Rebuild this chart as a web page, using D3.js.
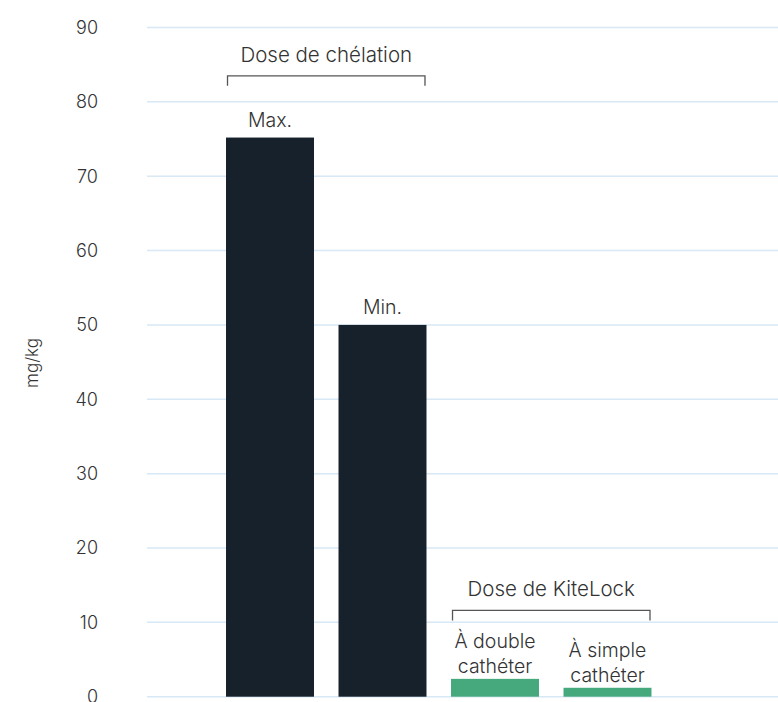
<!DOCTYPE html>
<html><head><meta charset="utf-8">
<script src="https://cdn.jsdelivr.net/npm/d3@7"></script>
<style>
body{margin:0;background:#fff;}
text{font-family:Inter,"Noto Sans",sans-serif;fill:#333;font-weight:300;}
</style></head>
<body><svg id="c" width="778" height="702"></svg>
<script>
const categories = ["Max.", "Min.", "À double\ncathéter", "À simple\ncathéter"];
const values = [75.2, 50, 2.4, 1.2];
const groups = ["chel", "chel", "kite", "kite"];
const groupTitles = {chel: "Dose de chélation", kite: "Dose de KiteLock"};
const bracketLevels = {chel: 83.5, kite: 11.6};
const yTicks = [0, 10, 20, 30, 40, 50, 60, 70, 80, 90];
const yLabel = "mg/kg";
const colors = {chel: "#16212b", kite: "#46a97d"};

const svg = d3.select("#c");
const y = d3.scaleLinear().domain([0, 90]).range([696.7, 27.5]);
const x = d3.scaleBand().domain(categories).range([213.75, 663.75]).paddingInner(0.218).paddingOuter(0.109);

// gridlines
svg.append("g").selectAll("line").data(yTicks).join("line")
  .attr("x1", 147).attr("x2", 778)
  .attr("y1", d => y(d)).attr("y2", d => y(d))
  .attr("stroke", "#d8e8f5").attr("stroke-width", 1.5);

// tick labels
svg.append("g").selectAll("text").data(yTicks).join("text")
  .attr("x", 98).attr("y", d => y(d)).attr("dy", "0.36em")
  .attr("text-anchor", "end").attr("font-size", 18).text(d => d);

// y label
svg.append("text").attr("transform", "translate(38,363) rotate(-90)")
  .attr("text-anchor", "middle").attr("font-size", 17).text(yLabel);

// bars
svg.append("g").selectAll("rect").data(categories).join("rect")
  .attr("x", d => x(d)).attr("width", x.bandwidth())
  .attr("y", (d, i) => y(values[i])).attr("height", (d, i) => y(0) - y(values[i]))
  .attr("fill", (d, i) => colors[groups[i]]);

// bar labels
categories.forEach((c, i) => {
  const lines = c.split("\n");
  const top = y(values[i]);
  const multi = lines.length > 1;
  const last = top - (multi ? 6 : 11);
  const t = svg.append("text").attr("text-anchor", "middle").attr("font-size", 19.5);
  lines.forEach((ln, j) => {
    t.append("tspan").attr("x", x(c) + x.bandwidth() / 2)
      .attr("y", last - (lines.length - 1 - j) * 25).text(ln);
  });
});

// brackets
Object.keys(groupTitles).forEach(g => {
  const idx = groups.map((gg, i) => gg === g ? i : -1).filter(i => i >= 0);
  const x1 = x(categories[idx[0]]) + 1.5;
  const x2 = x(categories[idx[idx.length - 1]]) + x.bandwidth() - 1.5;
  const yb = y(bracketLevels[g]);
  svg.append("path").attr("d", `M${x1},${yb + 10}V${yb}H${x2}V${yb + 10}`)
    .attr("fill", "none").attr("stroke", "#555").attr("stroke-width", 1.3);
  svg.append("text").attr("x", (x1 + x2) / 2).attr("y", yb - 14)
    .attr("text-anchor", "middle").attr("font-size", 20.5).text(groupTitles[g]);
});
</script></body></html>
